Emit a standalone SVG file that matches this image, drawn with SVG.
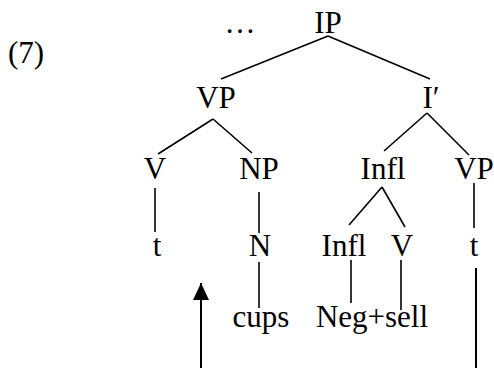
<svg xmlns="http://www.w3.org/2000/svg" width="494" height="368" viewBox="0 0 494 368">
<defs>
<style>
.lbl{font-family:'Liberation Serif','Times New Roman',Times,serif;font-size:31px;fill:#000;text-anchor:middle}
.edge{stroke:#000;stroke-width:1.6;fill:none}
.arrow{stroke:#000;stroke-width:2;fill:none}
</style>
<marker id="head" markerWidth="17" markerHeight="16" refX="17" refY="8" orient="auto" markerUnits="userSpaceOnUse" viewBox="0 0 17 16">
<path d="M0,0 L17,8 L0,16 Z" fill="#000"/>
</marker>
</defs>
<rect width="494" height="368" fill="#fff"/>
<g id="label7"><text class="lbl" font-family="Liberation Serif, serif" x="26" y="63">(7)</text></g>
<g id="ellipsis"><text class="lbl" font-family="Liberation Serif, serif" x="240" y="33">…</text></g>
<g id="connectors">
<line class="edge" x1="328" y1="36" x2="221" y2="79"/>
<line class="edge" x1="328" y1="36" x2="430" y2="79"/>
<line class="edge" x1="213" y1="119" x2="158" y2="154"/>
<line class="edge" x1="213" y1="119" x2="252" y2="153"/>
<line class="edge" x1="427" y1="113" x2="384" y2="151"/>
<line class="edge" x1="427" y1="113" x2="469" y2="155"/>
<line class="edge" x1="155" y1="188" x2="155" y2="232"/>
<line class="edge" x1="259" y1="192" x2="259" y2="233"/>
<line class="edge" x1="382" y1="187" x2="349" y2="225"/>
<line class="edge" x1="382" y1="187" x2="405" y2="227"/>
<line class="edge" x1="474" y1="183" x2="474" y2="228"/>
<line class="edge" x1="259" y1="262" x2="259" y2="308"/>
<line class="edge" x1="351" y1="260" x2="351" y2="303"/>
<line class="edge" x1="401" y1="260" x2="401" y2="310"/>
<line class="arrow" x1="201" y1="368" x2="201" y2="283" marker-end="url(#head)"/>
<line class="arrow" x1="476" y1="268" x2="476" y2="368"/>
</g>
<g id="IP"><text class="lbl" font-family="Liberation Serif, serif" x="328" y="33">IP</text></g>
<g id="VP1"><text class="lbl" font-family="Liberation Serif, serif" x="216" y="108">VP</text></g>
<g id="Ibar"><text class="lbl" font-family="Liberation Serif, serif" x="431" y="108">I′</text></g>
<g id="V1"><text class="lbl" font-family="Liberation Serif, serif" x="155" y="179">V</text></g>
<g id="NP"><text class="lbl" font-family="Liberation Serif, serif" x="259" y="179">NP</text></g>
<g id="Infl1"><text class="lbl" font-family="Liberation Serif, serif" x="383" y="179">Infl</text></g>
<g id="VP2"><text class="lbl" font-family="Liberation Serif, serif" x="474" y="179">VP</text></g>
<g id="t1"><text class="lbl" font-family="Liberation Serif, serif" x="157" y="256">t</text></g>
<g id="N"><text class="lbl" font-family="Liberation Serif, serif" x="260" y="256">N</text></g>
<g id="Infl2"><text class="lbl" font-family="Liberation Serif, serif" x="344" y="256">Infl</text></g>
<g id="V2"><text class="lbl" font-family="Liberation Serif, serif" x="402" y="256">V</text></g>
<g id="t2"><text class="lbl" font-family="Liberation Serif, serif" x="474" y="256">t</text></g>
<g id="cups"><text class="lbl" font-family="Liberation Serif, serif" x="261" y="327">cups</text></g>
<g id="negsell"><text class="lbl" font-family="Liberation Serif, serif" x="372" y="327">Neg+sell</text></g>
</svg>
